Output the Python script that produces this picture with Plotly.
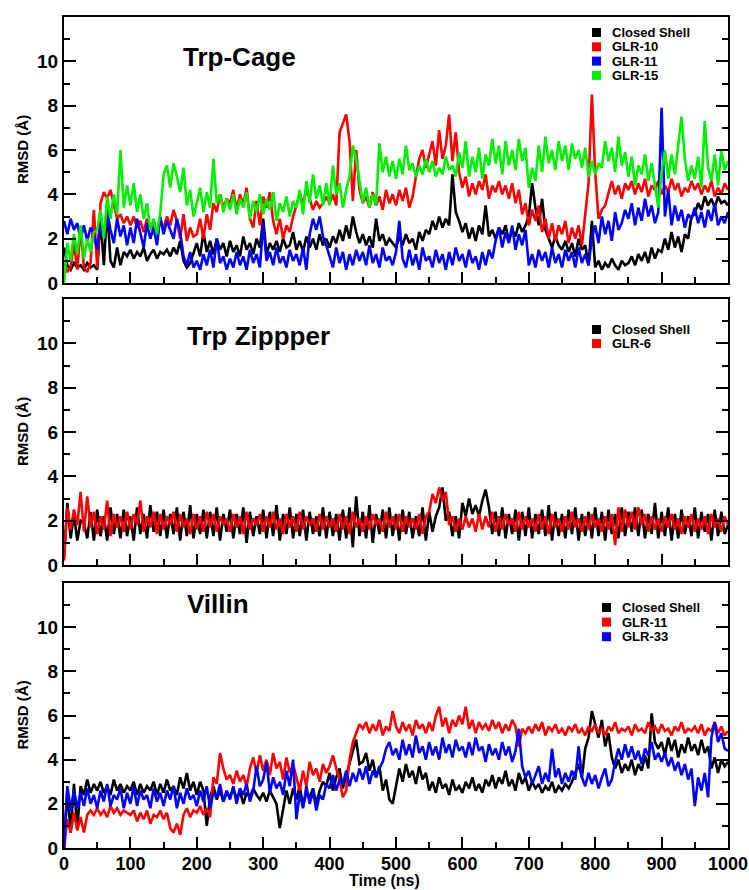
import plotly.graph_objects as go

# ---------------- data (RMSD in Angstrom, sampled every 5 ns) ----------------
time_ns = list(range(0, 1001, 5))

trpcage_closed = [
    1.6,0.8,0.6,0.9,0.7,0.8,0.6,0.9,0.7,0.8,
    0.6,2.9,0.8,3.4,1.0,0.7,1.6,0.8,1.4,1.2,
    1.5,1.1,1.4,1.2,1.6,1.0,1.3,1.5,1.1,1.4,
    1.3,1.5,1.2,1.6,1.3,1.9,1.0,0.7,0.9,1.4,
    1.8,1.2,2.3,1.4,1.9,1.3,2.0,1.5,1.8,1.2,
    1.9,1.4,1.7,1.2,2.1,1.5,1.8,1.3,2.0,1.6,
    2.9,1.3,1.8,1.5,1.9,1.4,2.0,1.6,1.7,2.3,
    1.5,1.9,1.4,2.1,1.6,2.0,1.5,2.2,1.7,2.0,
    1.6,2.1,1.8,2.4,1.9,2.6,2.0,3.0,2.3,1.8,
    2.2,1.7,2.1,1.6,2.9,1.9,2.2,1.7,2.0,1.8,
    1.6,2.1,1.7,2.2,1.8,2.0,1.5,2.3,1.9,2.4,
    2.2,2.8,2.4,3.0,2.5,2.9,2.6,4.9,3.2,2.8,
    2.3,2.7,2.0,2.5,1.9,2.6,2.2,3.5,2.1,2.4,
    2.0,2.5,2.2,2.6,1.9,2.4,2.1,2.7,2.3,2.6,
    3.0,4.5,3.4,2.6,3.8,2.4,2.0,1.6,2.1,1.7,
    1.5,1.9,1.4,1.8,1.2,2.0,1.5,1.7,0.8,2.8,
    0.7,1.0,0.6,0.9,0.7,1.1,0.8,0.6,1.0,0.8,
    0.9,1.2,0.8,1.3,1.0,1.4,0.9,1.6,1.1,1.5,
    1.4,2.0,1.5,2.3,1.6,2.1,1.4,2.2,2.0,3.0,
    3.1,3.6,3.3,3.9,3.5,3.8,3.4,3.9,3.6,3.7,
    3.5]

trpcage_glr10 = [
    0.9,0.5,0.7,1.8,0.6,2.5,0.7,0.5,0.9,3.3,
    0.7,3.6,4.1,3.8,4.2,3.5,2.9,3.1,2.7,3.0,
    2.6,3.0,2.5,2.8,2.3,2.9,2.4,2.7,2.2,2.8,
    2.5,3.0,2.6,3.3,2.8,2.0,3.1,1.9,2.5,2.1,
    2.2,2.9,2.0,3.1,2.4,3.6,3.2,4.0,3.4,3.8,
    3.6,4.2,3.3,4.0,3.5,4.3,2.9,2.5,3.7,2.6,
    3.9,3.4,4.1,2.8,2.2,2.9,2.0,2.6,2.3,3.0,
    3.5,4.0,3.6,4.2,3.8,3.3,3.7,3.4,3.6,3.9,
    3.6,4.0,3.5,6.8,7.2,7.6,6.4,3.7,6.0,4.2,
    3.6,3.9,3.4,4.1,3.5,3.9,3.3,4.2,3.6,4.0,
    3.5,4.2,3.7,4.3,3.4,3.9,4.8,5.6,6.0,5.2,
    5.8,6.4,5.3,6.9,5.6,6.2,7.6,5.5,6.8,5.0,
    4.3,4.8,3.9,4.5,4.0,4.6,4.2,4.9,3.8,4.4,
    4.1,4.6,4.0,4.4,3.8,4.5,3.6,4.2,3.1,3.6,
    2.6,3.3,2.8,3.5,2.3,2.9,2.0,2.7,1.9,2.6,
    2.2,2.8,1.8,2.5,2.0,2.6,1.7,3.2,4.5,8.5,
    5.0,2.9,3.3,3.5,4.1,4.6,4.0,4.4,3.8,4.5,
    4.2,4.6,4.0,4.5,4.1,4.7,3.9,4.4,4.2,4.6,
    4.0,4.4,4.1,4.7,4.2,4.5,3.9,4.3,4.1,4.6,
    4.2,4.5,4.0,4.4,4.1,4.6,3.9,4.3,4.0,4.5,
    4.2]

trpcage_glr11 = [
    2.8,2.2,2.9,2.4,2.7,2.0,2.6,1.9,2.5,2.2,
    1.5,2.8,2.0,3.2,2.4,1.8,2.9,2.1,2.6,1.7,
    2.5,1.8,2.9,2.2,1.6,2.7,2.0,2.5,1.7,3.0,
    2.2,2.8,2.4,2.0,2.9,2.3,1.2,0.8,1.4,0.7,
    1.0,0.6,1.3,0.8,1.5,0.7,2.0,0.9,1.2,0.6,
    1.1,0.7,1.4,0.8,1.2,0.6,1.5,0.9,1.3,0.7,
    2.7,1.0,1.4,0.8,1.6,0.9,1.2,0.7,1.5,1.0,
    1.3,0.8,1.6,0.6,2.2,2.9,2.4,3.0,2.1,1.7,
    1.2,0.7,1.6,0.9,1.4,0.6,1.3,0.8,1.5,1.0,
    1.4,0.8,1.7,0.9,1.3,0.7,1.6,1.0,1.2,0.8,
    1.4,2.8,1.1,0.7,1.5,0.8,1.3,0.6,1.6,1.0,
    1.2,0.7,1.5,0.9,1.3,0.6,1.4,0.8,1.6,1.0,
    1.3,0.7,1.5,0.9,1.2,0.6,1.4,0.8,1.5,1.1,
    1.9,2.5,1.6,2.3,1.8,2.6,1.5,2.2,1.7,2.4,
    0.8,1.3,0.7,1.5,1.0,1.4,0.7,1.6,0.9,1.3,
    0.7,1.5,1.0,1.4,0.7,1.6,0.9,1.3,0.8,2.0,
    2.6,1.8,3.0,2.2,2.8,1.9,3.2,2.4,2.7,3.3,
    2.9,3.6,2.6,3.4,2.8,3.8,3.0,3.5,2.7,3.2,
    7.9,3.0,4.2,2.6,3.5,2.8,3.3,2.5,3.1,2.9,
    3.4,2.7,3.2,2.5,3.3,2.8,3.6,2.6,3.0,2.7,
    3.2]

trpcage_glr15 = [
    0.0,1.8,1.0,2.2,1.3,2.6,1.1,2.0,1.4,2.3,
    2.4,3.3,2.0,3.9,2.9,4.0,3.1,6.0,3.4,4.4,
    3.5,4.5,3.2,4.0,2.9,3.6,2.4,2.9,2.2,3.2,
    4.9,5.3,4.3,5.4,4.8,4.1,5.2,3.5,4.2,3.0,
    3.6,4.3,3.2,4.1,3.4,5.6,3.6,4.0,3.2,3.8,
    3.3,4.0,3.1,3.8,3.4,4.1,2.9,3.7,3.2,4.0,
    3.1,3.8,3.3,4.1,2.8,3.6,3.2,3.9,3.0,3.7,
    3.4,4.2,3.1,4.6,3.6,4.9,3.8,4.4,3.5,4.5,
    3.5,5.3,4.0,4.5,3.4,4.2,4.8,6.2,5.6,4.5,
    3.6,4.3,3.4,4.0,3.5,6.3,5.0,5.7,4.8,5.5,
    4.7,5.6,4.9,6.2,5.1,5.4,4.8,5.3,4.9,5.6,
    5.0,5.5,4.8,5.2,4.9,5.7,5.1,5.3,4.8,5.9,
    5.2,6.4,4.8,5.7,5.0,6.1,4.7,5.8,5.3,6.5,
    5.4,6.2,4.9,6.4,5.3,6.0,5.1,6.5,5.5,6.1,
    4.3,5.2,4.6,6.2,5.0,6.6,5.4,6.0,5.1,6.4,
    5.5,6.2,5.1,6.3,5.6,6.0,5.2,6.1,4.8,5.5,
    4.9,5.4,5.2,6.4,5.5,6.1,5.0,6.6,5.3,5.9,
    4.8,5.7,4.4,5.3,4.9,5.8,4.6,5.4,4.3,3.4,
    5.0,6.0,4.7,5.8,4.9,6.2,7.5,5.6,4.6,5.3,
    4.7,5.7,4.3,7.3,5.2,4.6,5.8,4.4,6.0,5.1,
    5.5]

trpzip_closed = [
    0.3,2.8,1.2,2.3,1.1,2.0,1.9,1.2,2.4,1.1,
    2.5,1.3,2.2,1.1,2.6,1.4,2.3,1.2,2.5,1.3,
    2.2,1.1,2.6,1.4,2.3,1.2,2.7,1.5,2.4,1.3,
    2.5,1.2,2.3,1.4,2.6,1.1,2.4,1.3,2.7,1.2,
    2.3,1.4,2.5,1.2,2.4,1.3,2.6,1.1,2.3,1.5,
    2.5,1.2,2.3,1.4,2.6,1.0,2.4,1.3,2.2,1.4,
    2.5,1.2,2.4,1.3,2.7,1.1,2.3,1.4,2.6,1.2,
    2.3,1.3,2.5,1.1,2.4,1.4,2.2,1.3,2.6,1.2,
    2.4,1.3,2.3,1.1,2.5,1.2,2.6,0.8,3.1,1.3,
    2.4,1.2,2.7,1.0,2.3,1.4,2.5,1.2,2.6,1.3,
    2.3,1.1,2.5,1.4,2.4,1.2,2.2,1.3,2.6,1.1,
    2.4,1.5,2.2,2.6,3.5,2.0,2.4,1.3,2.2,1.2,
    2.8,2.2,3.0,2.3,2.7,2.2,2.9,3.4,2.6,1.4,
    2.4,1.3,2.6,1.2,2.3,1.4,2.5,1.1,2.4,1.3,
    2.6,1.2,2.3,1.4,2.5,1.3,2.7,1.1,2.4,1.3,
    2.3,1.2,2.5,1.4,2.6,1.1,2.3,1.3,2.4,1.2,
    2.6,1.3,2.4,1.1,2.5,1.4,2.3,1.2,2.6,1.3,
    2.4,1.5,2.6,1.3,2.5,1.2,2.3,1.4,2.8,1.2,
    2.4,1.3,2.6,1.1,2.3,1.2,2.5,1.4,2.2,1.3,
    2.6,1.2,2.4,1.5,2.3,1.1,2.5,1.3,2.4,1.4,
    1.8]

trpzip_glr6 = [
    0.2,2.6,1.6,2.5,1.8,3.3,1.5,3.1,1.7,2.4,
    1.4,2.2,1.6,2.9,1.3,2.3,1.7,2.2,1.5,2.4,
    1.6,2.3,1.8,2.9,1.5,2.2,1.7,2.4,1.4,2.3,
    1.6,2.2,1.8,2.4,1.5,2.3,1.7,2.1,1.4,2.3,
    1.6,2.2,1.5,2.4,1.7,2.3,1.5,2.2,1.8,2.1,
    1.5,2.3,1.7,2.2,1.4,2.4,1.6,2.1,1.8,2.3,
    1.5,2.2,1.7,2.4,1.6,2.1,1.4,2.3,1.7,2.2,
    1.5,2.4,1.6,2.2,1.8,2.1,1.5,2.3,1.6,2.2,
    1.7,2.1,1.5,2.3,1.6,2.2,1.4,2.4,1.7,2.1,
    1.5,2.2,1.6,2.3,1.8,2.1,1.5,2.4,1.7,2.2,
    1.6,2.3,1.5,2.2,1.7,2.1,1.6,2.3,1.4,2.2,
    2.4,3.2,2.8,3.5,2.9,3.3,1.8,2.2,1.5,2.1,
    1.6,2.2,1.7,2.1,1.5,2.3,1.6,2.2,1.7,2.4,
    1.5,2.2,1.6,2.3,1.8,2.1,1.5,2.4,1.6,2.2,
    1.7,2.1,1.5,2.3,1.6,2.2,1.4,2.3,1.7,2.1,
    1.5,2.2,1.6,2.4,1.7,2.1,1.5,2.2,1.6,2.3,
    1.7,2.1,1.5,2.2,1.6,2.3,0.9,2.6,1.5,2.5,
    1.7,2.4,1.6,2.6,1.8,2.3,1.5,2.2,1.6,2.1,
    1.5,2.2,1.7,2.3,1.6,2.1,1.4,2.2,1.7,2.3,
    1.5,2.1,1.6,2.2,1.4,2.3,1.7,2.1,1.5,2.2,
    1.8]

villin_closed = [
    0.0,2.6,0.7,2.9,0.9,2.8,2.4,3.1,2.5,2.9,
    2.6,3.0,2.5,2.8,2.4,3.1,2.6,2.9,2.5,2.8,
    2.6,3.0,2.4,2.9,2.5,2.8,2.6,3.0,2.4,2.9,
    2.5,3.1,2.6,2.8,2.4,3.2,2.7,3.4,2.6,3.0,
    2.4,3.0,2.6,1.0,2.3,2.8,2.2,2.6,2.1,2.5,
    2.3,2.7,2.2,2.6,2.0,2.5,2.3,2.7,2.4,2.2,
    2.5,2.1,2.6,2.3,2.0,0.9,1.8,2.6,2.0,2.7,
    2.2,2.8,1.9,2.5,2.3,2.7,2.0,2.6,3.0,2.8,
    3.4,2.6,3.2,3.6,2.7,3.3,3.9,4.4,4.9,3.8,
    3.9,4.3,3.5,4.0,3.2,3.7,2.6,3.1,2.2,2.0,
    2.8,3.6,3.0,3.8,3.2,3.5,2.9,3.7,3.1,3.4,
    2.6,3.0,2.5,3.2,2.7,2.9,2.4,3.1,2.6,2.8,
    2.5,3.0,2.7,3.2,2.6,2.9,2.5,3.1,2.8,3.3,
    2.7,3.2,2.9,3.5,2.8,3.1,2.6,3.4,2.9,3.2,
    2.6,3.0,2.7,2.9,2.5,2.8,2.6,3.0,2.5,2.8,
    2.6,2.9,2.7,3.0,3.4,3.8,3.2,4.5,5.0,6.2,
    5.6,5.0,5.8,4.6,5.2,4.1,3.6,4.0,3.4,3.8,
    3.5,4.0,3.3,3.8,3.5,4.2,3.6,6.1,4.8,4.5,
    4.8,4.2,5.0,4.4,4.9,4.1,4.7,4.3,5.0,4.4,
    4.7,4.2,4.9,4.3,4.6,3.6,4.1,3.4,4.0,3.7,
    3.9]

villin_glr11 = [
    0.0,1.3,0.7,1.6,0.8,1.4,0.7,1.5,1.7,1.5,
    1.8,1.5,1.7,1.4,1.9,1.6,1.8,1.5,1.7,1.6,
    1.5,1.7,1.2,1.6,1.3,1.7,1.1,1.5,1.4,1.7,
    1.3,1.6,0.9,0.7,1.1,0.6,1.5,1.8,1.4,1.7,
    1.6,1.9,1.5,1.8,1.4,3.2,2.9,4.3,3.6,3.1,
    3.3,2.9,3.5,3.0,3.3,2.8,3.6,4.1,3.4,4.2,
    3.5,4.0,3.3,4.3,3.6,3.9,3.1,4.1,3.4,3.8,
    3.2,2.6,3.5,2.8,3.9,3.3,3.6,3.0,3.8,3.4,
    3.7,4.2,3.6,3.1,2.3,2.6,4.0,4.8,5.2,5.6,
    5.4,5.7,5.2,5.6,5.3,5.8,5.1,5.5,5.3,6.2,
    5.5,5.2,5.7,5.3,5.6,5.1,5.8,5.4,5.6,5.2,
    5.7,5.3,6.0,6.4,5.5,5.9,5.2,5.8,5.5,6.0,
    5.6,6.4,5.4,5.8,5.2,5.7,5.4,5.6,5.3,5.8,
    5.4,5.7,5.2,5.6,5.3,5.8,5.5,4.6,5.4,5.2,
    5.5,5.2,5.6,5.3,5.7,5.1,5.5,5.3,5.6,5.2,
    5.4,5.1,5.5,5.3,5.6,5.2,5.4,5.1,5.5,5.3,
    5.6,5.2,5.4,5.1,5.5,5.3,5.7,5.2,5.4,5.3,
    5.5,5.1,5.6,5.3,5.4,5.2,5.7,5.3,5.5,5.2,
    5.6,5.3,5.4,5.1,5.5,5.3,5.7,5.2,5.4,5.3,
    5.5,5.2,5.6,5.1,5.4,5.3,5.7,5.2,5.5,5.1,
    5.3]

villin_glr33 = [
    0.0,2.8,1.7,2.6,1.8,2.5,1.9,2.7,2.0,2.4,
    1.8,2.6,2.1,2.9,1.9,2.4,2.2,2.7,1.8,2.5,
    2.0,2.8,1.9,2.6,2.2,2.4,1.8,2.7,2.1,2.5,
    1.9,2.6,2.2,2.8,1.8,2.5,2.0,2.7,2.2,2.4,
    1.9,2.6,2.1,2.8,1.8,2.5,2.3,2.9,2.1,2.6,
    2.2,2.8,2.0,2.7,2.4,2.9,2.1,2.6,3.7,2.8,
    3.1,3.9,2.5,3.2,2.7,3.0,2.4,3.5,2.8,4.0,
    1.3,2.5,1.8,2.8,2.0,2.6,1.7,2.4,2.2,2.9,
    2.7,3.3,2.6,3.1,2.9,3.5,2.8,3.4,3.0,3.6,
    3.1,3.7,2.9,3.5,3.2,3.6,3.9,4.5,4.8,4.2,
    4.5,4.0,4.9,4.2,4.7,4.1,5.1,4.3,4.6,4.0,
    4.8,4.2,4.6,4.0,5.0,4.3,4.7,4.1,4.9,4.4,
    4.6,4.1,4.8,4.2,5.0,4.4,4.6,3.9,4.7,4.2,
    4.5,4.0,4.8,4.2,4.6,3.9,4.4,5.4,3.7,3.2,
    3.5,2.9,3.3,3.7,2.9,3.4,3.0,4.5,3.2,3.6,
    2.9,3.4,3.0,3.5,3.1,4.6,3.2,2.8,3.4,2.9,
    3.3,2.7,3.2,3.6,2.8,3.1,3.9,4.5,4.0,4.7,
    4.1,4.6,4.0,4.4,3.8,4.5,4.2,4.8,4.0,4.3,
    3.9,4.3,3.7,4.1,3.5,3.9,3.3,3.8,3.1,3.6,
    1.9,3.2,2.6,3.4,2.3,5.0,5.7,4.8,5.2,4.5,
    4.4]

panel_titles = ["Trp-Cage", "Trp Zippper", "Villin"]
panel_series = [
    [("Closed Shell", trpcage_closed, "#000000"),
     ("GLR-10", trpcage_glr10, "#ff0000"),
     ("GLR-11", trpcage_glr11, "#0000ff"),
     ("GLR-15", trpcage_glr15, "#00ee00")],
    [("Closed Shell", trpzip_closed, "#000000"),
     ("GLR-6", trpzip_glr6, "#ff0000")],
    [("Closed Shell", villin_closed, "#000000"),
     ("GLR-11", villin_glr11, "#ff0000"),
     ("GLR-33", villin_glr33, "#0000ff")],
]
x_ticks = list(range(0, 1001, 100))
y_ticks = [0, 2, 4, 6, 8, 10]
y_minor = [1, 3, 5, 7, 9, 11]
x_label = "Time (ns)"
y_label = "RMSD (Å)"

# ---------------- layout geometry (pixels) ----------------
W, H = 749, 890
ML, MR, MT, MB = 64, 21, 17, 42
PW = W - ML - MR
PH = H - MT - MB


def px(x):
    return (x - ML) / PW


def py(y):
    return (H - MB - y) / PH


domains = [[py(283), 1.0], [py(565), py(299)], [0.0, py(583)]]
title_pos = [(181, 57), (185, 336), (185, 604)]
legend_pos = [(592, 610, 32.5, 14.3), (592, 610, 329.5, 14.0), (602, 620, 607.5, 14.6)]

FONT = "Liberation Sans, Arial, Helvetica, sans-serif"

fig = go.Figure()
annotations = []
shapes = []

for i, series in enumerate(panel_series):
    k = i + 1
    xa = "x" if k == 1 else f"x{k}"
    ya = "y" if k == 1 else f"y{k}"
    for name, vals, col in series:
        fig.add_trace(go.Scatter(x=time_ns, y=vals, mode="lines", name=name,
                                 line=dict(color=col, width=2.6),
                                 xaxis=xa, yaxis=ya, showlegend=False,
                                 hoverinfo="skip"))
    ax_common = dict(showgrid=False, zeroline=False, showline=True,
                     linecolor="black", linewidth=2, ticks="inside",
                     tickcolor="black", tickwidth=2, automargin=False,
                     ticklabeloverflow="allow")
    fig.layout[f"xaxis{k if k > 1 else ''}"] = dict(
        ax_common, anchor=ya, domain=[0, 1], range=[0, 1000],
        tickvals=x_ticks, ticklen=11, mirror=True,
        tickfont=dict(family=FONT, size=18, color="black", weight="bold"),
        ticklabelstandoff=-2,
        minor=dict(ticks="inside", dtick=50, tick0=0, ticklen=6,
                   tickcolor="black", tickwidth=2),
        showticklabels=(k == 3))
    fig.layout[f"yaxis{k if k > 1 else ''}"] = dict(
        ax_common, anchor=xa, domain=domains[i], range=[0, 12],
        tickvals=y_ticks, ticklen=12, mirror="ticks",
        tickfont=dict(family=FONT, size=19, color="black", weight="bold"),
        minor=dict(ticks="inside", tickvals=y_minor, ticklen=6,
                   tickcolor="black", tickwidth=2))

    # y axis title
    annotations.append(dict(text=y_label, xref="paper", yref="paper",
                            x=px(22), y=(domains[i][0] + domains[i][1]) / 2,
                            textangle=-90, showarrow=False,
                            font=dict(family=FONT, size=15, color="black", weight="bold"),
                            xanchor="center", yanchor="middle"))
    # panel title
    tx, ty = title_pos[i]
    annotations.append(dict(text=panel_titles[i], xref="paper", yref="paper",
                            x=px(tx), y=py(ty), showarrow=False,
                            font=dict(family=FONT, size=26, color="black", weight="bold"),
                            xanchor="left", yanchor="middle"))
    # legend
    sx, txx, ry, dy = legend_pos[i]
    for j, (name, vals, col) in enumerate(series):
        cy = ry + j * dy
        shapes.append(dict(type="rect", xref="paper", yref="paper",
                           x0=px(sx), x1=px(sx + 9), y0=py(cy + 4.5), y1=py(cy - 4.5),
                           fillcolor=col, line=dict(width=0)))
        annotations.append(dict(text=name, xref="paper", yref="paper",
                                x=px(txx), y=py(cy), showarrow=False,
                                font=dict(family=FONT, size=13, color="black", weight="bold"),
                                xanchor="left", yanchor="middle"))

annotations.append(dict(text=x_label, xref="paper", yref="paper",
                        x=px(384), y=py(881), showarrow=False,
                        font=dict(family=FONT, size=16, color="black", weight="bold"),
                        xanchor="center", yanchor="middle"))

fig.update_layout(width=W, height=H,
                  margin=dict(l=ML, r=MR, t=MT, b=MB, autoexpand=False),
                  paper_bgcolor="white", plot_bgcolor="white",
                  showlegend=False, annotations=annotations, shapes=shapes)

fig.write_html("out.html")
